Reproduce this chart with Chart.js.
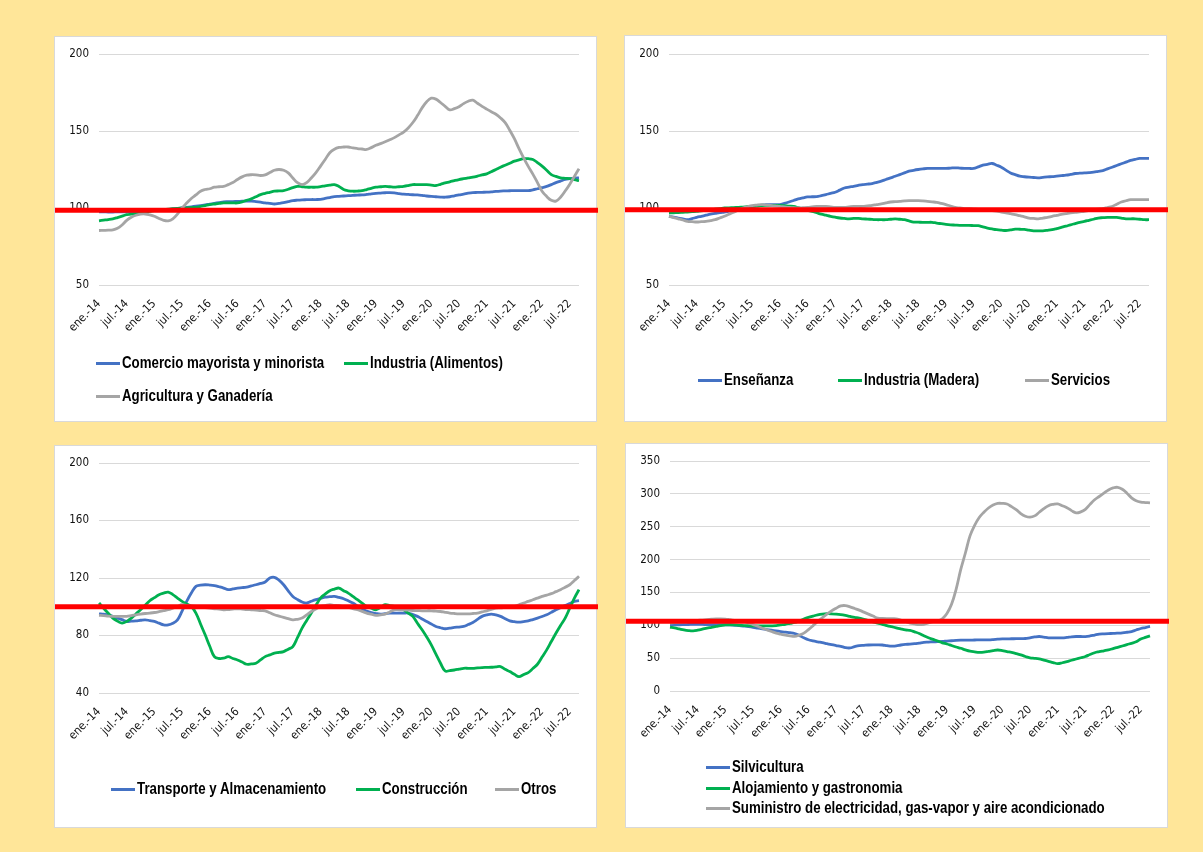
<!DOCTYPE html>
<html>
<head>
<meta charset="utf-8">
<script src="https://cdn.jsdelivr.net/npm/chart.js@4.4.1/dist/chart.umd.min.js"></script>
<style>
  html, body { margin: 0; padding: 0; }
  body { width: 1203px; height: 852px; background: #FFE699; position: relative; overflow: hidden; }
  .panel { position: absolute; background: #fff; border: 1px solid #D9D9D9; box-sizing: border-box; }
  .panel canvas { position: absolute; left: 0; top: 0; }
  .leg { position: absolute; display: flex; align-items: center; height: 20px; transform: translateY(-10px);
         font-family: 'Liberation Sans', Arial, sans-serif; font-weight: bold; font-size: 16px; color: #000; white-space: nowrap; }
  .leg i { display: inline-block; width: 24px; height: 3px; margin-right: 2px; flex: none; }
  .leg span { display: inline-block; transform: scaleX(0.83); transform-origin: left center; }
</style>
</head>
<body>
<div class="panel" id="p1" style="left:54px;top:36px;width:543px;height:386px;"><canvas id="c1" width="543" height="386"></canvas></div>
<div class="panel" id="p2" style="left:624px;top:35px;width:543px;height:387px;"><canvas id="c2" width="543" height="387"></canvas></div>
<div class="panel" id="p3" style="left:54px;top:445px;width:543px;height:383px;"><canvas id="c3" width="543" height="383"></canvas></div>
<div class="panel" id="p4" style="left:625px;top:443px;width:543px;height:385px;"><canvas id="c4" width="543" height="385"></canvas></div>

<div class="leg" style="left:96px;top:363px;"><i style="background:#4472C4"></i><span>Comercio mayorista y minorista</span></div>
<div class="leg" style="left:344px;top:363px;"><i style="background:#00B050"></i><span>Industria (Alimentos)</span></div>
<div class="leg" style="left:96px;top:396px;"><i style="background:#A5A5A5"></i><span>Agricultura y Ganadería</span></div>

<div class="leg" style="left:698px;top:380px;"><i style="background:#4472C4"></i><span>Enseñanza</span></div>
<div class="leg" style="left:838px;top:380px;"><i style="background:#00B050"></i><span>Industria (Madera)</span></div>
<div class="leg" style="left:1025px;top:380px;"><i style="background:#A5A5A5"></i><span>Servicios</span></div>

<div class="leg" style="left:111px;top:789px;"><i style="background:#4472C4"></i><span>Transporte y Almacenamiento</span></div>
<div class="leg" style="left:356px;top:789px;"><i style="background:#00B050"></i><span>Construcción</span></div>
<div class="leg" style="left:495px;top:789px;"><i style="background:#A5A5A5"></i><span>Otros</span></div>

<div class="leg" style="left:706px;top:767px;"><i style="background:#4472C4"></i><span>Silvicultura</span></div>
<div class="leg" style="left:706px;top:788px;"><i style="background:#00B050"></i><span>Alojamiento y gastronomia</span></div>
<div class="leg" style="left:706px;top:808px;"><i style="background:#A5A5A5"></i><span>Suministro de electricidad, gas-vapor y aire acondicionado</span></div>

<script>
// ---- categories ----
const MONTHS = ['ene.','feb.','mar.','abr.','may.','jun.','jul.','ago.','sept.','oct.','nov.','dic.'];
const YEARS = ['14','15','16','17','18','19','20','21','22'];
const LAST_MONTH_2022 = 9; // data ends sep.-22
const categories = [];
YEARS.forEach((y, yi) => {
  const n = (yi === YEARS.length - 1) ? LAST_MONTH_2022 : 12;
  for (let m = 0; m < n; m++) categories.push(MONTHS[m] + '-' + y);
});
const shownTickLabels = ['ene.','jul.'];

// ---- Panel 1 ----
const comercio = [
  97.5,97.5,97.4,97.4,97.5,97.5,97.5,97.6,97.8,98.0,98.2,98.4,
  98.5,98.7,98.9,99.1,99.4,99.7,100.0,100.4,100.8,101.2,101.6,102.0,
  102.5,103.0,103.5,104.0,104.1,104.2,104.3,104.4,104.5,104.5,104.2,103.8,
  103.3,103.0,102.6,103.0,103.5,104.2,104.8,105.1,105.3,105.4,105.5,105.5,
  105.6,106.2,106.8,107.4,107.6,107.8,108.0,108.2,108.4,108.5,108.8,109.2,
  109.5,109.7,109.9,110.0,109.8,109.4,109.0,108.8,108.6,108.5,108.2,107.8,
  107.5,107.3,107.1,107.0,107.3,107.9,108.5,109.0,109.6,110.0,110.1,110.2,
  110.3,110.5,110.8,111.0,111.1,111.2,111.3,111.3,111.3,111.3,111.8,112.5,
  113.2,114.0,115.2,116.5,117.5,118.5,119.0,119.4,119.6
];
const alimentos = [
  91.7,92.1,92.5,93.0,93.8,94.7,95.7,96.0,96.4,96.7,97.2,97.8,
  98.3,98.6,99.0,99.3,99.5,99.8,100.0,100.1,100.3,100.4,101.0,101.6,
  102.2,102.6,103.0,103.3,103.3,103.3,103.3,104.0,105.0,105.9,107.3,108.7,
  109.5,110.2,110.9,111.1,111.3,112.2,113.2,114.1,113.8,113.5,113.5,113.5,
  113.9,114.4,114.8,115.2,114.0,112.0,111.2,110.9,111.0,111.3,112.0,112.8,
  113.5,113.8,114.1,113.8,113.5,113.8,114.1,114.6,115.2,115.2,115.2,115.2,
  114.9,114.6,115.4,116.3,117.0,117.8,118.5,119.0,119.5,120.0,120.7,121.5,
  122.2,123.6,125.0,126.5,127.8,129.1,130.4,131.2,132.0,132.0,131.5,129.5,
  127.2,124.5,121.7,120.5,119.6,119.3,119.1,118.4,117.8
];
const agricultura = [
  85.4,85.5,85.6,85.8,86.8,89.0,92.0,94.0,95.3,96.0,96.1,95.5,
  94.6,93.2,92.0,91.7,93.0,96.0,100.0,103.2,106.2,108.5,110.9,112.0,
  112.5,113.5,113.8,114.0,115.2,116.6,118.5,120.2,121.3,121.6,121.5,121.1,
  121.5,123.0,124.5,125.0,124.5,122.8,119.5,116.5,115.2,116.5,119.5,123.0,
  127.2,131.5,135.9,138.2,139.3,139.6,139.6,139.0,138.6,138.3,138.0,139.2,
  140.7,141.8,143.0,144.3,145.7,147.5,149.3,152.0,155.5,160.0,165.0,169.0,
  171.3,170.7,168.5,166.0,163.7,164.5,165.8,167.8,169.3,170.0,168.0,166.0,
  164.2,162.5,160.9,158.5,155.4,150.5,145.0,138.5,132.5,127.0,122.0,116.5,
  110.9,107.5,105.0,104.5,107.0,111.0,115.5,120.5,125.5
];

// ---- Panel 2 ----
const ensenanza = [
  94.6,94.0,93.5,93.0,92.4,93.1,93.9,94.6,95.3,96.0,96.5,97.0,
  97.4,97.9,98.4,98.9,99.6,100.3,101.0,101.4,101.8,102.2,102.2,102.2,
  102.2,103.0,103.9,104.9,105.9,106.6,107.2,107.3,107.4,108.0,108.7,109.5,
  110.2,111.6,113.0,113.6,114.1,114.7,115.2,115.5,115.9,116.6,117.4,118.5,
  119.6,120.6,121.7,122.8,123.9,124.5,125.0,125.4,125.7,125.7,125.7,125.7,
  125.7,125.9,126.1,125.9,125.7,125.7,125.7,126.7,127.8,128.4,128.9,127.8,
  126.5,124.6,122.8,121.7,120.7,120.3,120.0,119.8,119.6,119.9,120.2,120.4,
  120.7,121.0,121.3,121.8,122.4,122.6,122.8,123.0,123.3,123.8,124.3,125.4,
  126.5,127.6,128.7,129.8,130.9,131.6,132.2,132.2,132.2
];
const madera = [
  96.7,96.9,97.0,97.2,97.4,97.6,97.8,98.2,98.5,98.9,99.3,99.6,
  100.0,100.1,100.3,100.4,100.6,100.8,101.0,101.2,101.5,101.7,101.7,101.7,
  101.7,101.5,101.2,101.0,100.2,99.3,98.5,97.8,96.9,96.0,95.3,94.6,
  94.0,93.5,93.2,93.0,93.2,93.3,93.0,92.8,92.6,92.4,92.4,92.4,
  92.7,93.0,92.7,92.4,91.6,90.9,90.8,90.7,90.7,90.7,90.2,89.8,
  89.4,89.1,88.9,88.7,88.7,88.7,88.6,88.5,87.7,87.0,86.4,85.9,
  85.6,85.4,85.8,86.3,86.2,86.1,85.6,85.2,85.2,85.2,85.5,85.9,
  86.6,87.4,88.2,89.1,89.9,90.7,91.3,92.0,92.7,93.5,93.7,93.9,
  93.9,93.9,93.5,93.0,93.0,93.0,92.7,92.4,92.4
];
const servicios = [
  94.6,93.8,93.0,92.2,91.3,91.1,90.9,91.1,91.3,91.8,92.4,93.5,
  94.6,95.9,97.2,98.6,100.0,100.8,101.5,101.9,102.2,102.0,101.7,101.4,
  101.0,100.7,100.4,100.2,100.0,100.2,100.4,100.7,101.0,101.0,101.0,100.7,
  100.4,100.4,100.4,100.7,101.0,101.0,101.0,101.4,101.7,102.2,102.6,103.3,
  103.9,104.1,104.3,104.6,104.8,104.8,104.8,104.6,104.3,104.0,103.7,103.0,
  102.2,101.3,100.4,100.0,99.6,99.5,99.3,99.1,98.9,98.6,98.3,97.9,
  97.4,96.9,96.3,95.7,95.0,94.3,93.5,93.2,93.0,93.5,93.9,94.6,
  95.2,95.8,96.3,96.8,97.2,97.5,97.8,98.4,98.9,99.3,99.6,100.3,
  101.0,102.5,103.9,104.7,105.4,105.4,105.4,105.4,105.4
];

// ---- Panel 3 ----
const transporte = [
  95.1,94.8,94.4,93.3,92.1,91.0,89.8,90.0,90.2,90.6,90.9,90.4,
  89.8,88.6,87.4,87.4,88.5,90.9,97.0,103.7,109.5,114.2,115.0,115.3,
  115.1,114.7,113.9,113.0,111.9,112.4,113.0,113.3,113.7,114.5,115.3,116.2,
  117.2,120.0,120.5,118.5,115.3,111.0,107.2,105.0,103.3,102.6,103.8,104.9,
  105.8,106.7,107.0,107.2,106.5,105.6,104.2,102.6,100.5,98.4,97.0,96.0,
  95.3,94.9,95.2,95.6,95.6,95.6,95.6,95.6,94.6,93.3,91.5,89.8,
  88.0,86.3,85.4,84.7,85.1,85.6,85.9,86.3,87.6,89.1,91.2,93.3,
  94.3,94.9,94.3,93.3,91.7,90.2,89.6,89.3,89.7,90.2,91.1,92.1,
  93.2,94.4,96.1,97.9,99.4,100.9,102.3,103.7,104.2
];
const construccion = [
  102.6,99.0,95.5,92.1,90.0,88.6,89.8,92.1,95.0,97.9,101.0,104.2,
  106.3,108.4,109.5,110.2,108.4,106.0,103.7,102.0,100.2,95.6,88.0,80.5,
  72.5,65.3,64.0,64.2,65.3,64.0,63.0,61.5,60.0,60.2,60.7,63.0,
  65.3,66.5,67.7,68.2,68.8,70.5,72.3,78.5,85.1,90.5,95.6,101.0,
  106.0,108.8,111.2,112.3,113.0,111.2,109.5,107.2,104.9,102.5,100.2,99.0,
  97.9,99.5,101.4,100.8,100.2,99.0,97.9,95.6,93.3,88.5,84.0,79.0,
  73.5,67.0,60.7,55.3,55.6,56.0,56.6,57.2,57.2,57.2,57.5,57.7,
  57.8,57.9,58.2,58.4,56.5,54.9,53.0,51.4,52.8,54.2,57.0,60.0,
  65.0,70.0,75.8,81.6,87.0,92.1,99.0,106.0,111.9
];
const otros = [
  94.0,93.8,93.5,93.3,93.3,93.3,93.3,93.8,94.4,94.9,95.3,95.6,
  96.0,96.6,97.3,97.9,99.0,100.2,101.4,101.0,100.6,100.2,99.8,99.4,
  99.0,98.6,98.3,97.9,98.1,98.4,98.6,98.4,98.1,97.9,97.7,97.4,
  97.2,95.8,94.4,93.5,92.6,91.7,90.9,91.3,92.1,94.4,96.7,98.5,
  100.2,100.8,101.4,101.0,100.7,100.1,99.5,98.7,97.9,96.8,95.6,94.8,
  94.0,94.4,94.9,96.4,97.9,97.9,97.9,97.6,97.4,97.3,97.2,97.2,
  97.2,96.9,96.7,96.1,95.6,95.3,95.1,95.1,95.1,95.3,95.6,96.4,
  97.2,98.1,99.0,99.2,99.5,99.8,100.2,101.4,102.6,103.7,104.9,106.0,
  107.2,108.1,109.1,110.5,111.9,113.6,115.3,118.2,121.2
];

// ---- Panel 4 ----
const silvicultura = [
  100.8,100.8,100.8,101.0,101.2,101.5,101.5,101.3,101.0,100.8,100.8,100.8,
  100.8,100.5,100.0,99.5,98.8,98.0,97.0,95.8,94.6,93.5,92.5,91.5,
  90.5,89.5,88.7,87.5,84.5,81.0,78.0,76.2,74.8,73.5,72.0,70.5,
  69.2,68.0,66.0,65.5,67.5,69.0,69.5,70.0,70.3,70.3,70.0,69.0,
  68.2,68.5,70.0,71.0,71.3,72.0,73.0,74.0,74.4,74.8,75.1,75.4,
  76.0,76.5,77.0,77.3,77.4,77.5,77.6,77.7,77.8,77.8,78.2,78.8,
  79.3,79.4,79.5,79.6,79.8,79.9,81.0,82.2,82.9,82.0,80.9,80.9,
  80.9,80.9,81.6,82.5,82.9,82.9,82.9,83.8,85.2,86.5,87.0,87.4,
  87.6,88.0,88.5,89.4,90.5,92.8,95.1,96.6,98.2
];
const alojamiento = [
  97.2,96.0,94.5,93.0,92.0,91.6,92.5,94.0,95.8,97.0,98.3,99.5,
  100.5,100.8,100.5,100.0,99.6,99.3,99.2,99.2,99.2,99.2,99.2,99.5,
  100.5,101.5,103.0,104.3,106.8,109.5,112.0,114.0,115.8,117.0,117.6,117.5,
  117.0,116.2,115.0,113.5,112.0,110.8,109.0,107.2,105.3,103.3,101.5,99.5,
  97.8,96.2,94.5,93.0,92.2,90.0,87.5,84.0,81.0,78.5,76.0,73.3,
  71.5,69.2,67.0,65.0,62.5,60.5,59.5,58.7,59.0,60.2,61.5,62.4,
  61.5,60.0,58.7,57.0,55.0,52.5,50.5,49.8,48.8,47.0,45.2,43.3,
  41.7,43.0,44.8,46.8,48.7,50.6,52.5,55.5,58.2,59.8,61.2,62.6,
  64.5,66.5,68.5,70.6,72.6,74.8,79.0,81.5,83.9
];
const electricidad = [
  103.3,104.0,104.8,105.5,106.2,106.9,107.5,108.0,108.6,109.2,109.7,109.9,
  109.5,108.5,107.5,106.6,105.8,103.5,101.0,98.5,95.5,93.0,90.5,88.0,
  86.5,85.0,84.0,83.0,85.0,88.0,93.5,99.5,105.8,111.5,117.0,122.0,
  126.0,129.5,130.0,128.0,125.5,123.0,120.0,117.0,114.0,111.0,110.3,110.0,
  110.0,109.9,108.0,105.8,103.3,102.0,100.9,101.5,103.5,105.5,106.5,110.0,
  118.0,132.0,155.0,185.0,210.0,236.0,252.0,264.0,272.0,278.5,283.0,285.5,
  285.5,284.5,280.5,276.0,270.0,266.0,264.5,266.5,272.0,277.5,282.0,284.0,
  284.8,282.0,279.0,274.5,271.0,272.5,276.5,284.0,291.0,296.0,301.0,306.0,
  309.0,310.0,307.0,301.0,294.0,289.5,287.4,286.8,286.3
];

// reference (red) lines
const refLines = [98.6, 98.8, 100, 106];

const BLUE = '#4472C4', GREEN = '#00B050', GREY = '#A5A5A5';
const FONT = "'DejaVu Sans Condensed', 'Liberation Sans', sans-serif";

const redLinePlugin = {
  id: 'redLine',
  afterDatasetsDraw(chart, args, opts) {
    const y = chart.scales.y.getPixelForValue(opts.value);
    const ctx = chart.ctx;
    ctx.save();
    ctx.strokeStyle = '#FF0000';
    ctx.lineWidth = 5;
    ctx.beginPath();
    ctx.moveTo(0, y);
    ctx.lineTo(chart.width, y);
    ctx.stroke();
    ctx.restore();
  }
};

function makeChart(id, series, yMin, yMax, yStep, ref, plotTop, plotBottom) {
  const canvas = document.getElementById(id);
  const H = canvas.height;
  const ds = series.map((s, i) => ({
    label: s.label, data: s.data, borderColor: s.color, backgroundColor: s.color,
    borderWidth: 2.8, pointRadius: 0, tension: 0.4, fill: false, order: 3 - i
  }));
  return new Chart(canvas, {
    type: 'line',
    data: { labels: categories, datasets: ds },
    plugins: [redLinePlugin],
    options: {
      responsive: false, animation: false, events: [],
      layout: { padding: { left: 0, top: plotTop, right: 19, bottom: 0 } },
      plugins: { legend: { display: false }, tooltip: { enabled: false }, redLine: { value: ref } },
      scales: {
        x: {
          grid: { display: false }, border: { display: false },
          afterFit(scale) { scale.height = H - plotBottom; },
          ticks: {
            autoSkip: false, maxRotation: 45, minRotation: 45, padding: 4,
            color: '#111', font: { family: FONT, size: 11.5 },
            callback(v, i) {
              const lab = categories[i];
              return shownTickLabels.includes(lab.split('-')[0]) ? lab : null;
            }
          }
        },
        y: {
          min: yMin, max: yMax,
          afterFit(scale) { scale.width = 44; },
          grid: { color: '#D9D9D9', lineWidth: 1, drawTicks: false },
          border: { display: false },
          ticks: { stepSize: yStep, padding: 10, color: '#111', font: { family: FONT, size: 11.5 } }
        }
      }
    }
  });
}

makeChart('c1', [
  { label: 'Comercio mayorista y minorista', data: comercio, color: BLUE },
  { label: 'Industria (Alimentos)', data: alimentos, color: GREEN },
  { label: 'Agricultura y Ganadería', data: agricultura, color: GREY }
], 50, 200, 50, refLines[0], 17, 248);

makeChart('c2', [
  { label: 'Enseñanza', data: ensenanza, color: BLUE },
  { label: 'Industria (Madera)', data: madera, color: GREEN },
  { label: 'Servicios', data: servicios, color: GREY }
], 50, 200, 50, refLines[1], 18, 249);

makeChart('c3', [
  { label: 'Transporte y Almacenamiento', data: transporte, color: BLUE },
  { label: 'Construcción', data: construccion, color: GREEN },
  { label: 'Otros', data: otros, color: GREY }
], 40, 200, 40, refLines[2], 17, 247);

makeChart('c4', [
  { label: 'Silvicultura', data: silvicultura, color: BLUE },
  { label: 'Alojamiento y gastronomia', data: alojamiento, color: GREEN },
  { label: 'Suministro de electricidad, gas-vapor y aire acondicionado', data: electricidad, color: GREY }
], 0, 350, 50, refLines[3], 17, 247);
</script>
</body>
</html>
